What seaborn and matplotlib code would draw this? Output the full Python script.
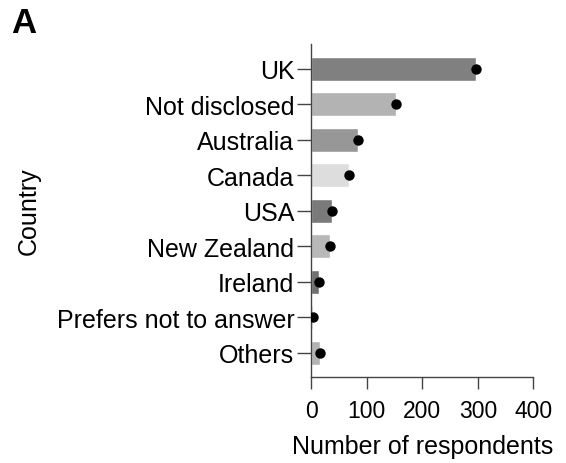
import matplotlib
matplotlib.use("Agg")
import matplotlib.pyplot as plt
import seaborn as sns
import pandas as pd

countries = ["UK", "Not disclosed", "Australia", "Canada", "USA",
             "New Zealand", "Ireland", "Prefers not to answer", "Others"]
respondents = [296, 152, 84, 69, 38, 34, 14, 3, 17]
bar_colors = ["#808080", "#b3b3b3", "#979797", "#dddddd", "#7a7a7a",
              "#b8b8b8", "#707070", "#d0d0d0", "#b3b3b3"]
x_ticks = [0, 100, 200, 300, 400]

sns.set_theme(style="ticks")
plt.rcParams["font.family"] = ["Liberation Sans", "DejaVu Sans"]
plt.rcParams["text.color"] = "black"
plt.rcParams["axes.labelcolor"] = "black"
plt.rcParams["xtick.labelcolor"] = "black"
plt.rcParams["ytick.labelcolor"] = "black"

df = pd.DataFrame({"Country": countries, "Number of respondents": respondents})

fig = plt.figure(figsize=(5.66, 4.64), dpi=100)
ax = fig.add_axes([0.5495, 0.1853, 0.3928, 0.7177])

sns.barplot(data=df, x="Number of respondents", y="Country", hue="Country",
            palette=bar_colors, order=countries, hue_order=countries,
            width=0.68, saturation=1, legend=False, ax=ax, zorder=1)
sns.stripplot(data=df, x="Number of respondents", y="Country", order=countries,
              jitter=False, color="black", size=7.5, ax=ax, zorder=3)

ax.set_xlim(0, 400)
ax.set_ylim(8.68, -0.7)
ax.set_xticks(x_ticks)
ax.set_xticklabels([str(t) for t in x_ticks], fontsize=16.5)
ax.tick_params(axis="y", labelsize=18, length=10, width=1, color="#444444",
               labelcolor="black", pad=2)
ax.tick_params(axis="x", length=8.5, width=1, color="#444444",
               labelcolor="black", pad=7)
for s in ["top", "right"]:
    ax.spines[s].set_visible(False)
for s in ["left", "bottom"]:
    ax.spines[s].set_color("#444444")
    ax.spines[s].set_linewidth(1)

ax.set_xlabel("Number of respondents", fontsize=18, labelpad=9, color="black")
ax.set_ylabel("Country", fontsize=18, color="black")
ax.yaxis.set_label_coords(-1.216, 0.5)

fig.text(0.02, 0.985, "A", fontsize=25, fontweight="bold", va="top", ha="left",
         color="black")

fig.savefig("out.png", dpi=100)
